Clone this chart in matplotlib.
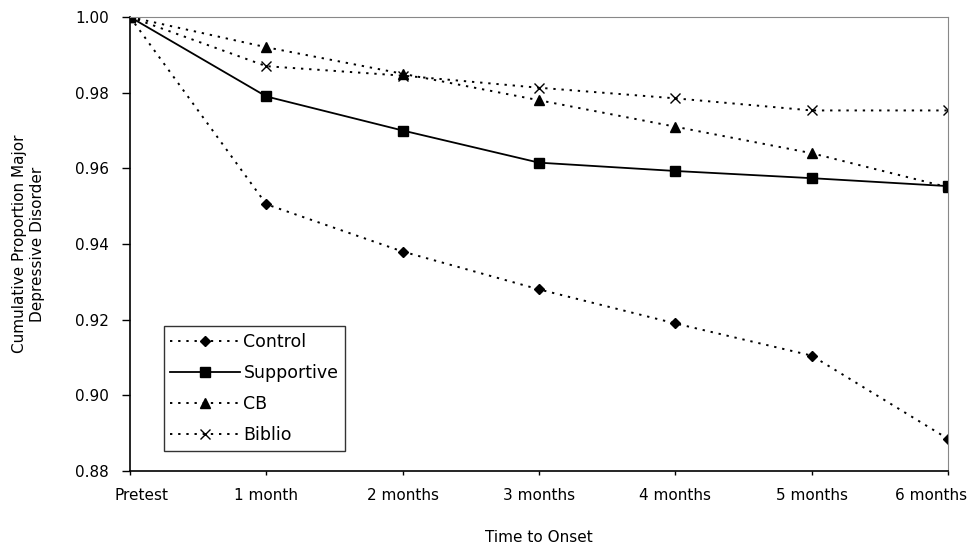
import numpy as np
import matplotlib.pyplot as plt
import matplotlib.transforms as mtransforms

# data
months = ["Pretest", "1 month", "2 months", "3 months", "4 months", "5 months", "6 months"]
control = [1.000, 0.9505, 0.938, 0.928, 0.919, 0.9105, 0.8885]
supportive = [1.000, 0.979, 0.970, 0.9615, 0.9593, 0.9574, 0.9553]
cb = [1.000, 0.992, 0.985, 0.978, 0.971, 0.964, 0.955]
biblio = [1.000, 0.987, 0.9845, 0.9813, 0.9785, 0.9753, 0.9753]
yticks = [0.88, 0.90, 0.92, 0.94, 0.96, 0.98, 1.00]

plt.rcParams['font.family'] = ['DejaVu Sans']

fig = plt.figure(figsize=(9.74, 5.5), dpi=100)
ax = fig.add_axes([130/974, 1-471/550, 818/974, 454/550])

dot = (0, (1.2, 3))
x = np.arange(len(months))
ax.plot(x, control, ls=dot, lw=1.4, color='black', marker='D', ms=5, label='Control')
ax.plot(x, supportive, ls='-', lw=1.3, color='black', marker='s', ms=6.5, label='Supportive')
ax.plot(x, cb, ls=dot, lw=1.4, color='black', marker='^', ms=7, label='CB')
ax.plot(x, biblio, ls=dot, lw=1.4, color='black', marker='x', ms=7, mew=1.0, label='Biblio')

ax.set_xlim(0, len(months)-1)
ax.set_ylim(0.88, 1.00)
ax.set_xticks(x)
ax.set_xticklabels(months)
ax.set_yticks(yticks)
ax.set_yticklabels(["%.2f" % v for v in yticks])
ax.tick_params(axis='y', labelsize=11, length=6, width=1, pad=9)
ax.tick_params(axis='x', labelsize=11, length=3, width=1, pad=9)

# shift the end labels inwards, like the original
labs = ax.get_xticklabels()
labs[0].set_transform(labs[0].get_transform() + mtransforms.ScaledTranslation(11/100, 0, fig.dpi_scale_trans))
labs[-1].set_transform(labs[-1].get_transform() + mtransforms.ScaledTranslation(-17/100, 0, fig.dpi_scale_trans))

for s in ['top', 'right']:
    ax.spines[s].set_color('#888888')
for s in ['left', 'bottom']:
    ax.spines[s].set_color('black')
    ax.spines[s].set_linewidth(1.2)

ax.set_xlabel("Time to Onset", fontsize=11, labelpad=20)
ax.set_ylabel("Cumulative Proportion Major\nDepressive Disorder", fontsize=11, labelpad=22)

leg = ax.legend(loc='lower left', bbox_to_anchor=(0.041, 0.045), fontsize=12.5, frameon=True,
                fancybox=False, edgecolor='black', handlelength=4.0, handletextpad=0.2,
                borderpad=0.4, labelspacing=0.74, borderaxespad=0)
leg.get_frame().set_linewidth(1.0)

plt.savefig("out.png", dpi=100)
